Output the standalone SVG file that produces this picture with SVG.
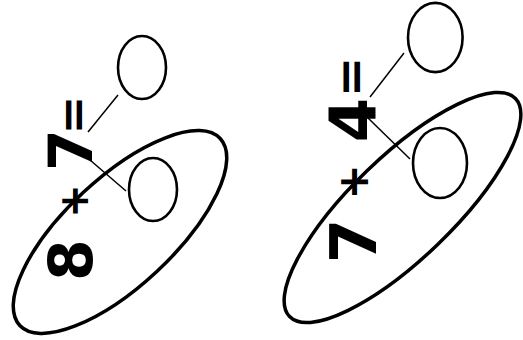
<svg xmlns="http://www.w3.org/2000/svg" width="523" height="340" viewBox="0 0 523 340">
<style>
.big{fill:none;stroke:#000;stroke-width:3.5}
.blank{fill:none;stroke:#000;stroke-width:2.6}
.link{stroke:#000;stroke-width:1.5;fill:none}
.expr{font-family:"DejaVu Sans",sans-serif;font-weight:bold;fill:#000}
</style>
<rect width="523" height="340" fill="#fff"/>
<g id="left-set">
<ellipse class="big" cx="120" cy="232" rx="137" ry="54" transform="rotate(-43 120 232)"/>
</g>
<g id="left-expr">
<text class="expr" transform="translate(92,0) rotate(-90)" text-anchor="middle"><tspan x="-260" y="0" font-size="60">8</tspan><tspan x="-201" y="-4" font-size="40">+</tspan><tspan x="-150" y="0" font-size="60">7</tspan><tspan x="-115" y="-3.5" font-size="46">=</tspan></text>
</g>
<g id="left-answer">
<ellipse class="blank" cx="142" cy="67.5" rx="24" ry="31.5"/>
</g>
<g id="left-inner">
<ellipse class="blank" cx="153" cy="189.5" rx="24" ry="31.5"/>
</g>
<g id="right-set">
<ellipse class="big" cx="402.5" cy="207.5" rx="157" ry="51" transform="rotate(-44 402.5 207.5)"/>
</g>
<g id="right-expr">
<text class="expr" transform="translate(376,0) rotate(-90)" text-anchor="middle"><tspan x="-241" y="0" font-size="64">7</tspan><tspan x="-182" y="-8" font-size="42">+</tspan><tspan x="-120" y="0" font-size="64">4</tspan><tspan x="-77" y="-9" font-size="48">=</tspan></text>
</g>
<g id="right-answer">
<ellipse class="blank" cx="435.3" cy="37.5" rx="27.3" ry="34.6"/>
</g>
<g id="right-inner">
<ellipse class="blank" cx="440" cy="163" rx="27" ry="35"/>
</g>
<g id="connectors">
<line class="link" x1="118" y1="95" x2="88" y2="132"/>
<line class="link" x1="90" y1="160" x2="126" y2="191"/>
<line class="link" x1="404" y1="53" x2="370" y2="97"/>
<line class="link" x1="367" y1="117" x2="410" y2="159"/>
</g>
</svg>
